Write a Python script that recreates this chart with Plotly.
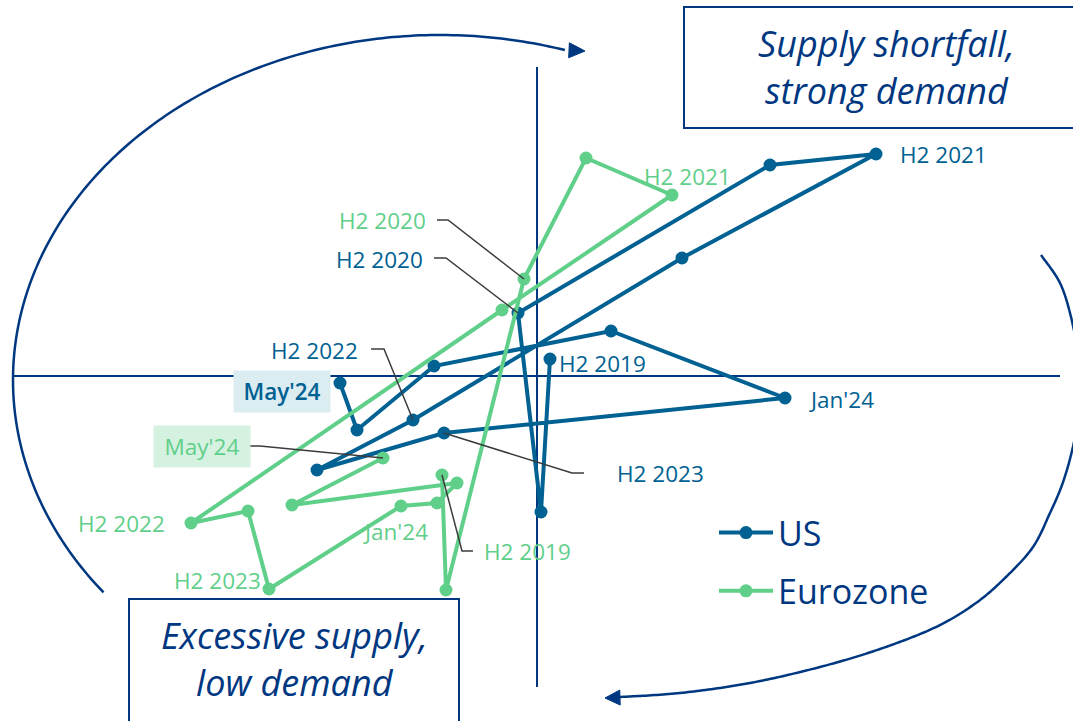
import numpy as np
import plotly.graph_objects as go

W, H = 1073, 721
FONT = "Open Sans"
NAVY = "#003781"
US_C = "#006192"
EZ_C = "#5fcf8a"
LEAD = "#3c3c3c"

# ---------------- data ----------------
periods = ["H2 2019", "H1 2020", "H2 2020", "H1 2021", "H2 2021", "H1 2022", "H2 2022",
           "H1 2023", "H2 2023", "Jan'24", "Feb'24", "Mar'24", "Apr'24", "May'24"]

us_supply_shortfall = [0.13, 0.04, -0.19, 2.33, 3.39, 1.45, -1.24, -2.20, -0.93, 2.48, 0.74, -1.03, -1.80, -1.97]
us_demand = [0.17, -1.36, 0.63, 2.11, 2.22, 1.18, -0.44, -0.94, -0.57, -0.22, 0.45, 0.10, -0.54, -0.07]

ez_supply_shortfall = [-0.95, -0.91, -0.13, 0.49, 1.35, -0.35, -3.46, -2.89, -2.68, -1.36, -1.00, -0.80, -2.45, -1.54]
ez_demand = [-0.99, -2.14, 0.97, 2.18, 1.81, 0.66, -1.47, -1.35, -2.13, -1.30, -1.27, -1.07, -1.29, -0.82]

series_names = ["US", "Eurozone"]

# ---------------- layout helpers ----------------
PX = 100.0            # pixels per unit
X0, Y0 = 537, 376     # pixel position of the origin
x_range = [-X0 / PX, (W - X0) / PX]
y_range = [-(H - Y0) / PX, Y0 / PX]


def P(px, py):
    """pixel -> paper coordinates (used for decorations only)"""
    return px / W, 1 - py / H


def path_from(points):
    s = ""
    for i, (px, py) in enumerate(points):
        x, y = P(px, py)
        s += ("M" if i == 0 else "L") + f"{x:.5f},{y:.5f}"
    return s


def catmull(pts, n=24):
    pts = np.asarray(pts, float)
    out = []
    for i in range(len(pts) - 1):
        p0 = pts[max(i - 1, 0)]
        p1 = pts[i]
        p2 = pts[i + 1]
        p3 = pts[min(i + 2, len(pts) - 1)]
        for t in np.linspace(0, 1, n, endpoint=False):
            t2, t3 = t * t, t * t * t
            q = 0.5 * ((2 * p1) + (-p0 + p2) * t + (2 * p0 - 5 * p1 + 4 * p2 - p3) * t2
                       + (-p0 + 3 * p1 - 3 * p2 + p3) * t3)
            out.append(q)
    out.append(pts[-1])
    return np.array(out)


def arrow_head(tip, prev, length=16, half=7.5):
    tip = np.asarray(tip, float)
    prev = np.asarray(prev, float)
    d = tip - prev
    d /= np.linalg.norm(d)
    nrm = np.array([-d[1], d[0]])
    base = tip - d * length
    pts = [tip, base + nrm * half, base - nrm * half]
    return path_from(pts) + "Z"


fig = go.Figure()

fig.add_trace(go.Scatter(
    x=us_supply_shortfall, y=us_demand, text=periods, name=series_names[0],
    mode="lines+markers", legendgroup="us",
    line=dict(color=US_C, width=4), marker=dict(size=13, color=US_C),
    hovertemplate="%{text}<extra>US</extra>"))
fig.add_trace(go.Scatter(
    x=ez_supply_shortfall, y=ez_demand, text=periods, name=series_names[1],
    mode="lines+markers", legendgroup="ez",
    line=dict(color=EZ_C, width=4), marker=dict(size=13, color=EZ_C),
    hovertemplate="%{text}<extra>Eurozone</extra>"))

shapes = []
annotations = []

# quadrant boxes
bx0, by0 = P(684, 7)
bx1, by1 = P(1090, 128)
shapes.append(dict(type="rect", xref="paper", yref="paper", x0=bx0, y0=by1, x1=bx1, y1=by0,
                   line=dict(color=NAVY, width=2), fillcolor="white", layer="below"))
bx0, by0 = P(129, 599)
bx1, by1 = P(459, 740)
shapes.append(dict(type="rect", xref="paper", yref="paper", x0=bx0, y0=by1, x1=bx1, y1=by0,
                   line=dict(color=NAVY, width=2), fillcolor="white", layer="below"))

# axes through the origin
shapes.append(dict(type="line", xref="x", yref="y", x0=-5.25, x1=5.23, y0=0, y1=0,
                   line=dict(color=NAVY, width=2), layer="below"))
shapes.append(dict(type="line", xref="x", yref="y", x0=0, x1=0, y0=-3.11, y1=3.09,
                   line=dict(color=NAVY, width=2), layer="below"))

# left cycle arc (ellipse)
cx, cy, ea, eb = 440, 380, 427, 345
t = np.radians(np.linspace(142, 287, 200))
left_arc = np.column_stack([cx + ea * np.cos(t), cy + eb * np.sin(t)])
shapes.append(dict(type="path", xref="paper", yref="paper", path=path_from(left_arc),
                   line=dict(color=NAVY, width=2.5), layer="below"))
tip = (585, 51)
shapes.append(dict(type="path", xref="paper", yref="paper",
                   path=arrow_head(tip, left_arc[-1]),
                   line=dict(color=NAVY, width=1), fillcolor=NAVY, layer="below"))

# right cycle arc
right_pts = [(1041, 255), (1060, 283), (1071, 317), (1078, 355), (1080, 390), (1077, 425),
             (1071, 455), (1062, 485), (1050, 513), (1033, 547), (1006, 577), (976, 603),
             (936, 627), (880, 649), (820, 667), (750, 683), (680, 693), (620, 697)]
right_arc = catmull(right_pts)
shapes.append(dict(type="path", xref="paper", yref="paper", path=path_from(right_arc),
                   line=dict(color=NAVY, width=2.5), layer="below"))
shapes.append(dict(type="path", xref="paper", yref="paper",
                   path=arrow_head((605, 698), (640, 697), length=15, half=7.5),
                   line=dict(color=NAVY, width=1), fillcolor=NAVY, layer="below"))

# quadrant texts
qx, qy = P(886, 67)
annotations.append(dict(xref="paper", yref="paper", x=qx, y=qy, showarrow=False,
                        xanchor="center", yanchor="middle",
                        text="<i>Supply shortfall,<br>strong demand</i>",
                        font=dict(family=FONT, size=36, color=NAVY, weight=500), align="center"))
qx, qy = P(294, 659)
annotations.append(dict(xref="paper", yref="paper", x=qx, y=qy, showarrow=False,
                        xanchor="center", yanchor="middle",
                        text="<i>Excessive supply,<br>low demand</i>",
                        font=dict(family=FONT, size=36, color=NAVY, weight=500), align="center"))

# point labels: (series, period, dx, dy, xanchor, box color, leader offsets)
labels = [
    ("US", "H2 2021", 22, 0, "left", None, None),
    ("US", "H2 2020", -93, 54, "right", None, [(-72, 55), (-84, 55)]),
    ("US", "H2 2019", 7, -4, "left", None, None),
    ("US", "Jan'24", 22, -1, "left", None, None),
    ("US", "H2 2022", -53, 70, "right", None, [(-29, 71), (-42, 71)]),
    ("US", "May'24", -58, -8, "center", "#dcedf2", None),
    ("US", "H2 2023", 171, -40, "left", None, [(128, -40), (140, -40)]),
    ("Eurozone", "H2 2021", -30, 19, "left", None, None),
    ("Eurozone", "H2 2020", -96, 59, "right", None, [(-76, 59), (-87, 59)]),
    ("Eurozone", "May'24", -181, 12, "center", "#d5f1df", [(-123, 12), (-134, 12)]),
    ("Eurozone", "H2 2022", -24, 0, "right", None, None),
    ("Eurozone", "H2 2023", -6, 9, "right", None, None),
    ("Eurozone", "Jan'24", -6, -25, "center", None, None),
    ("Eurozone", "H2 2019", 40, -76, "left", None, [(20, -76), (31, -76)]),
]

for ser, per, dx, dy, xa, box, leader in labels:
    i = periods.index(per)
    if ser == "US":
        x, y, col = us_supply_shortfall[i], us_demand[i], US_C
    else:
        x, y, col = ez_supply_shortfall[i], ez_demand[i], EZ_C
    weight = 500
    if box and ser == "US":
        weight = 600
    ann = dict(xref="x", yref="y", x=x, y=y, xshift=dx, yshift=dy, showarrow=False,
               text=per, xanchor=xa, yanchor="middle",
               font=dict(family=FONT, size=22.5, color=col, weight=weight))
    if box:
        ann.update(bgcolor=box, width=94, height=39)
    annotations.append(ann)
    if leader:
        p = "M0,0" + "".join(f"L{a},{b}" for a, b in leader)
        shapes.append(dict(type="path", xref="x", yref="y", xsizemode="pixel", ysizemode="pixel",
                           xanchor=x, yanchor=y, path=p, line=dict(color=LEAD, width=1.5)))

lx, ly = P(714, 504)
fig.update_layout(
    width=W, height=H, margin=dict(l=0, r=0, t=0, b=0),
    paper_bgcolor="white", plot_bgcolor="white",
    xaxis=dict(range=x_range, visible=False, fixedrange=True),
    yaxis=dict(range=y_range, visible=False, fixedrange=True),
    shapes=shapes, annotations=annotations,
    showlegend=True,
    legend=dict(x=lx, y=ly, xanchor="left", yanchor="top",
                font=dict(family=FONT, size=34, color=NAVY, weight=500),
                itemwidth=54, tracegroupgap=11, bgcolor="rgba(0,0,0,0)"),
    font=dict(family=FONT),
)

fig.write_html("out.html", config={"displayModeBar": False},
               post_script="document.body.style.margin='0';")
